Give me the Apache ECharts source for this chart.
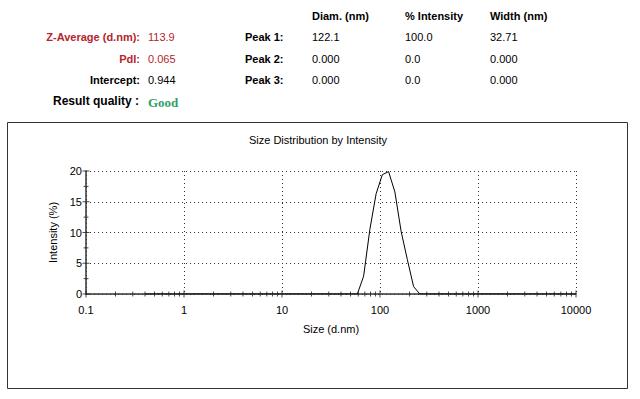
<!DOCTYPE html>
<html>
<head>
<meta charset="utf-8">
<script src="https://cdn.jsdelivr.net/npm/echarts@6/dist/echarts.min.js"></script>
<style>
  html, body { margin: 0; padding: 0; background: #fff; }
  #chart { width: 640px; height: 399px; }
</style>
</head>
<body>
<div id="chart"></div>
<script>
// size bins (d.nm) and intensity (%)
const sizes = [0.4, 50.75, 58.77, 68.06, 78.82, 91.28, 105.7, 122.4, 141.8, 164.2, 190.1, 220.2, 255.0, 10000]
const intensity = [0, 0, 0, 2.9, 10.5, 16.3, 19.4, 19.9, 16.6, 10.2, 5.6, 1.2, 0, 0]

const xTickLabels = ['0.1', '1', '10', '100', '1000', '10000']
const yTicks = [0, 5, 10, 15, 20]

const summaryLabels = ['Z-Average (d.nm):', 'PdI:', 'Intercept:']
const summaryValues = ['113.9', '0.065', '0.944']
const peakHeaders = ['Diam. (nm)', '% Intensity', 'Width (nm)']
const peakNames = ['Peak 1:', 'Peak 2:', 'Peak 3:']
const peakDiam = ['122.1', '0.000', '0.000']
const peakInt = ['100.0', '0.0', '0.0']
const peakWidth = ['32.71', '0.000', '0.000']

const FONT = 'Arial, "Liberation Sans", sans-serif'
const RED = '#b3262c'

// tick marks that cross the axis lines (1..9 per decade)
const xTickMarks = []
for (let e = -1; e < 4; e++) {
  for (let k = 1; k <= 9; k++) xTickMarks.push([k * Math.pow(10, e), 0, k === 1 ? 7 : 5])
}
xTickMarks.push([10000, 0, 7])
const yTickMarks = []
for (let v = 0; v <= 20; v += 2.5) yTickMarks.push([0.1, v, v % 5 === 0 ? 7 : 5])

const texts = []
function txt(x, y, s, opt) {
  texts.push({
    type: 'text', x: x, y: y, silent: true,
    style: Object.assign({ text: s, font: '11px ' + FONT, fill: '#000', textVerticalAlign: 'middle', textAlign: 'left' }, opt || {})
  })
}
const rowsY = [37, 59, 80]
const colX = [312, 405, 490]
summaryLabels.forEach((s, i) => {
  const c = i < 2 ? RED : '#000'
  txt(140, rowsY[i], s, { font: 'bold 11px ' + FONT, fill: c, textAlign: 'right' })
  txt(148, rowsY[i], summaryValues[i], { fill: c })
})
txt(139, 101, 'Result quality :', { font: 'bold 12px ' + FONT, textAlign: 'right' })
txt(148, 102, 'Good', { font: 'bold 13px "Liberation Serif", "DejaVu Serif", serif', fill: '#2f9e68' })
peakHeaders.forEach((s, i) => txt(colX[i], 16, s, { font: 'bold 11px ' + FONT }))
peakNames.forEach((s, i) => {
  txt(245, rowsY[i], s, { font: 'bold 11px ' + FONT })
  txt(colX[0], rowsY[i], peakDiam[i])
  txt(colX[1], rowsY[i], peakInt[i])
  txt(colX[2], rowsY[i], peakWidth[i])
})
txt(318, 140, 'Size Distribution by Intensity', { textAlign: 'center' })

const chart = echarts.init(document.getElementById('chart'), null, { renderer: 'svg' })
chart.setOption({
  backgroundColor: '#fff',
  animation: false,
  graphic: [{
    type: 'rect', shape: { x: 7.5, y: 122.5, width: 620, height: 266 },
    style: { fill: 'none', stroke: '#333', lineWidth: 1 }, silent: true
  }].concat(texts),
  grid: { left: 86, right: 64, top: 171, bottom: 105 },
  xAxis: {
    type: 'log', logBase: 10, min: 0.1, max: 10000,
    name: 'Size (d.nm)', nameLocation: 'middle', nameGap: 29,
    nameTextStyle: { fontFamily: FONT, fontSize: 11, color: '#000' },
    axisLine: { lineStyle: { color: '#333', width: 1.5 } },
    axisTick: { show: false },
    axisLabel: { margin: 10, fontFamily: FONT, fontSize: 11, color: '#000',
      formatter: v => xTickLabels.find(t => Math.abs(parseFloat(t) - v) / v < 1e-6) || '' },
    splitLine: { show: true, lineStyle: { color: '#333', type: [1, 3] } }
  },
  yAxis: {
    type: 'value', min: 0, max: 20, interval: 5,
    name: 'Intensity (%)', nameLocation: 'middle', nameGap: 23, nameRotate: 90,
    nameTextStyle: { fontFamily: FONT, fontSize: 11, color: '#000' },
    axisLine: { show: true, lineStyle: { color: '#333', width: 1.5 } },
    axisTick: { show: false },
    axisLabel: { margin: 4, fontFamily: FONT, fontSize: 11, color: '#000',
      formatter: v => yTicks.includes(v) ? String(v) : '' },
    splitLine: { show: true, lineStyle: { color: '#333', type: [1, 3] } }
  },
  series: [
    {
      type: 'line', data: sizes.map((s, i) => [s, intensity[i]]),
      showSymbol: false, smooth: false, silent: true,
      lineStyle: { color: '#000', width: 1 }, z: 5
    },
    {
      type: 'scatter', data: xTickMarks, clip: false, silent: true,
      symbol: 'rect', symbolSize: d => [1, d[2]],
      itemStyle: { color: '#222' }, z: 6
    },
    {
      type: 'scatter', data: yTickMarks, clip: false, silent: true,
      symbol: 'rect', symbolSize: d => [d[2], 1],
      itemStyle: { color: '#222' }, z: 6
    }
  ]
})
</script>
</body>
</html>
